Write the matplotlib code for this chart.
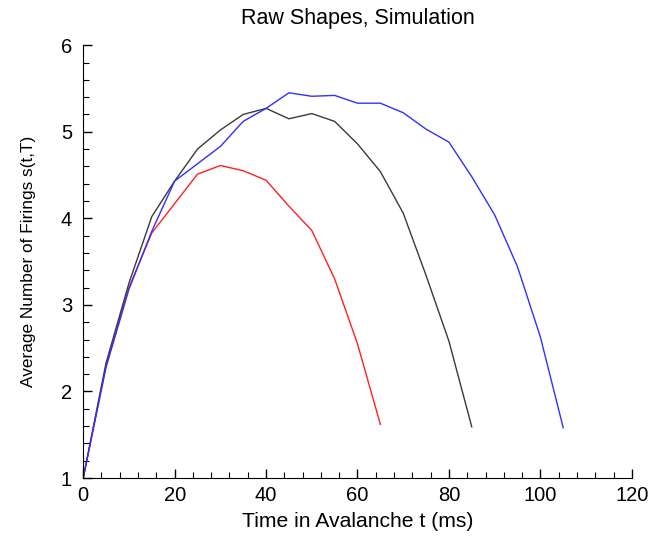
import matplotlib
matplotlib.use("Agg")
import matplotlib.pyplot as plt
from matplotlib.ticker import MultipleLocator

plt.rcParams['font.family'] = ['Liberation Sans', 'DejaVu Sans']

t_red = [0, 5, 10, 15, 20, 25, 30, 35, 40, 45, 50, 55, 60, 65]
s_red = [1.0, 2.30, 3.20, 3.83, 4.17, 4.51, 4.61, 4.55, 4.44, 4.14, 3.86, 3.30, 2.55, 1.62]

t_black = [0, 5, 10, 15, 20, 25, 30, 35, 40, 45, 50, 55, 60, 65, 70, 75, 80, 85]
s_black = [1.0, 2.33, 3.25, 4.02, 4.43, 4.80, 5.02, 5.20, 5.27, 5.15, 5.21, 5.12, 4.86,
           4.54, 4.06, 3.34, 2.58, 1.59]

t_blue = [0, 5, 10, 15, 20, 25, 30, 35, 40, 45, 50, 55, 60, 65, 70, 75, 80, 85, 90,
          95, 100, 105]
s_blue = [1.0, 2.28, 3.18, 3.85, 4.43, 4.63, 4.83, 5.12, 5.27, 5.45, 5.41, 5.42, 5.33,
          5.33, 5.22, 5.03, 4.88, 4.48, 4.04, 3.44, 2.63, 1.58]

fig = plt.figure(figsize=(6.5, 5.38), dpi=100)
ax = fig.add_axes([0.128, 0.1115, 0.844, 0.8045])

ax.plot(t_red, s_red, color='#ff2020', lw=1.0)
ax.plot(t_black, s_black, color='#3a3a3a', lw=1.0)
ax.plot(t_blue, s_blue, color='#3030ff', lw=1.0)

ax.set_xlim(0, 120)
ax.set_ylim(1, 6)
ax.xaxis.set_major_locator(MultipleLocator(20))
ax.xaxis.set_minor_locator(MultipleLocator(4))
ax.yaxis.set_major_locator(MultipleLocator(1))
ax.yaxis.set_minor_locator(MultipleLocator(0.2))
ax.tick_params(which='major', direction='in', length=6.5, width=1, labelsize=14.5)
ax.tick_params(axis='x', which='major', pad=6)
ax.tick_params(axis='y', which='major', pad=8)
ax.tick_params(which='minor', direction='in', length=4, width=0.8)
ax.spines['top'].set_visible(False)
ax.spines['right'].set_visible(False)

ax.set_xlabel('Time in Avalanche t (ms)', fontsize=15.2, labelpad=5)
ax.set_ylabel('Average Number of Firings s(t,T)', fontsize=12.4, labelpad=18)
ax.set_title('Raw Shapes, Simulation', fontsize=15.5, pad=15)

fig.savefig('out.png', dpi=100)
